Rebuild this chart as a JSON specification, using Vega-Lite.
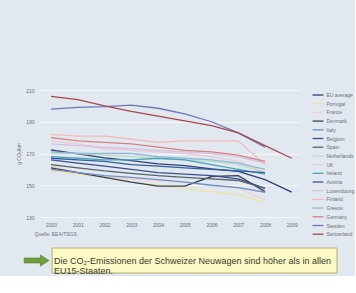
{
  "$schema": "https://vega.github.io/schema/vega-lite/v6.json",
  "background": "#e1e8ef",
  "padding": {"top": 88, "left": 16, "right": 0, "bottom": 0},
  "config": {
    "font": "Liberation Sans",
    "view": {"stroke": null},
    "concat": {"spacing": 9}
  },
  "resolve": {"scale": {"color": "independent"}, "legend": {"color": "independent"}},
  "datasets": {
    "em": [
      {"c":"EU average","y":2000,"v":172.2},{"c":"EU average","y":2001,"v":169.7},{"c":"EU average","y":2002,"v":167.2},{"c":"EU average","y":2003,"v":165.5},{"c":"EU average","y":2004,"v":163.4},{"c":"EU average","y":2005,"v":162.4},{"c":"EU average","y":2006,"v":160.3},{"c":"EU average","y":2007,"v":158.7},{"c":"EU average","y":2008,"v":153.5},{"c":"EU average","y":2009,"v":145.7},
      {"c":"Portugal","y":2000,"v":159},{"c":"Portugal","y":2001,"v":157},{"c":"Portugal","y":2002,"v":155},{"c":"Portugal","y":2003,"v":152},{"c":"Portugal","y":2004,"v":150},{"c":"Portugal","y":2005,"v":148},{"c":"Portugal","y":2006,"v":146},{"c":"Portugal","y":2007,"v":144},{"c":"Portugal","y":2008,"v":139},
      {"c":"France","y":2000,"v":162},{"c":"France","y":2001,"v":158},{"c":"France","y":2002,"v":155},{"c":"France","y":2003,"v":154},{"c":"France","y":2004,"v":153},{"c":"France","y":2005,"v":152},{"c":"France","y":2006,"v":150},{"c":"France","y":2007,"v":148},{"c":"France","y":2008,"v":141},
      {"c":"Denmark","y":2000,"v":161},{"c":"Denmark","y":2001,"v":158},{"c":"Denmark","y":2002,"v":155},{"c":"Denmark","y":2003,"v":152},{"c":"Denmark","y":2004,"v":149.5},{"c":"Denmark","y":2005,"v":149.5},{"c":"Denmark","y":2006,"v":155.5},{"c":"Denmark","y":2007,"v":156},{"c":"Denmark","y":2008,"v":146},
      {"c":"Italy","y":2000,"v":160},{"c":"Italy","y":2001,"v":158},{"c":"Italy","y":2002,"v":156},{"c":"Italy","y":2003,"v":155},{"c":"Italy","y":2004,"v":153.5},{"c":"Italy","y":2005,"v":152},{"c":"Italy","y":2006,"v":150},{"c":"Italy","y":2007,"v":148.5},{"c":"Italy","y":2008,"v":145.6},
      {"c":"Belgium","y":2000,"v":166},{"c":"Belgium","y":2001,"v":164},{"c":"Belgium","y":2002,"v":162},{"c":"Belgium","y":2003,"v":160},{"c":"Belgium","y":2004,"v":158},{"c":"Belgium","y":2005,"v":157},{"c":"Belgium","y":2006,"v":156},{"c":"Belgium","y":2007,"v":154},{"c":"Belgium","y":2008,"v":148},
      {"c":"Spain","y":2000,"v":163},{"c":"Spain","y":2001,"v":161},{"c":"Spain","y":2002,"v":159},{"c":"Spain","y":2003,"v":157.5},{"c":"Spain","y":2004,"v":156},{"c":"Spain","y":2005,"v":155},{"c":"Spain","y":2006,"v":154},{"c":"Spain","y":2007,"v":153},{"c":"Spain","y":2008,"v":148},
      {"c":"Netherlands","y":2000,"v":170},{"c":"Netherlands","y":2001,"v":170},{"c":"Netherlands","y":2002,"v":169},{"c":"Netherlands","y":2003,"v":168},{"c":"Netherlands","y":2004,"v":167},{"c":"Netherlands","y":2005,"v":166},{"c":"Netherlands","y":2006,"v":165},{"c":"Netherlands","y":2007,"v":163},{"c":"Netherlands","y":2008,"v":158},
      {"c":"UK","y":2000,"v":178},{"c":"UK","y":2001,"v":176},{"c":"UK","y":2002,"v":173},{"c":"UK","y":2003,"v":172},{"c":"UK","y":2004,"v":171},{"c":"UK","y":2005,"v":170},{"c":"UK","y":2006,"v":168},{"c":"UK","y":2007,"v":165},{"c":"UK","y":2008,"v":158},
      {"c":"Ireland","y":2000,"v":168},{"c":"Ireland","y":2001,"v":167},{"c":"Ireland","y":2002,"v":166},{"c":"Ireland","y":2003,"v":166},{"c":"Ireland","y":2004,"v":167},{"c":"Ireland","y":2005,"v":166},{"c":"Ireland","y":2006,"v":163},{"c":"Ireland","y":2007,"v":160},{"c":"Ireland","y":2008,"v":157},
      {"c":"Austria","y":2000,"v":167},{"c":"Austria","y":2001,"v":166},{"c":"Austria","y":2002,"v":165},{"c":"Austria","y":2003,"v":163},{"c":"Austria","y":2004,"v":162},{"c":"Austria","y":2005,"v":161},{"c":"Austria","y":2006,"v":160},{"c":"Austria","y":2007,"v":159},{"c":"Austria","y":2008,"v":158},
      {"c":"Luxembourg","y":2000,"v":176},{"c":"Luxembourg","y":2001,"v":175},{"c":"Luxembourg","y":2002,"v":174},{"c":"Luxembourg","y":2003,"v":173},{"c":"Luxembourg","y":2004,"v":172},{"c":"Luxembourg","y":2005,"v":171},{"c":"Luxembourg","y":2006,"v":170},{"c":"Luxembourg","y":2007,"v":168},{"c":"Luxembourg","y":2008,"v":164},
      {"c":"Finland","y":2000,"v":182},{"c":"Finland","y":2001,"v":181},{"c":"Finland","y":2002,"v":181},{"c":"Finland","y":2003,"v":179},{"c":"Finland","y":2004,"v":177},{"c":"Finland","y":2005,"v":178},{"c":"Finland","y":2006,"v":178},{"c":"Finland","y":2007,"v":178},{"c":"Finland","y":2008,"v":163},
      {"c":"Greece","y":2000,"v":171},{"c":"Greece","y":2001,"v":170},{"c":"Greece","y":2002,"v":170},{"c":"Greece","y":2003,"v":170},{"c":"Greece","y":2004,"v":168},{"c":"Greece","y":2005,"v":167},{"c":"Greece","y":2006,"v":166},{"c":"Greece","y":2007,"v":164},{"c":"Greece","y":2008,"v":160},
      {"c":"Germany","y":2000,"v":180},{"c":"Germany","y":2001,"v":178},{"c":"Germany","y":2002,"v":177},{"c":"Germany","y":2003,"v":176},{"c":"Germany","y":2004,"v":174},{"c":"Germany","y":2005,"v":172},{"c":"Germany","y":2006,"v":171},{"c":"Germany","y":2007,"v":169},{"c":"Germany","y":2008,"v":165},
      {"c":"Sweden","y":2000,"v":198},{"c":"Sweden","y":2001,"v":199},{"c":"Sweden","y":2002,"v":199.5},{"c":"Sweden","y":2003,"v":200.5},{"c":"Sweden","y":2004,"v":198.5},{"c":"Sweden","y":2005,"v":195},{"c":"Sweden","y":2006,"v":190},{"c":"Sweden","y":2007,"v":183},{"c":"Sweden","y":2008,"v":174},
      {"c":"Switzerland","y":2000,"v":206},{"c":"Switzerland","y":2001,"v":204},{"c":"Switzerland","y":2002,"v":200},{"c":"Switzerland","y":2003,"v":196.5},{"c":"Switzerland","y":2004,"v":193.5},{"c":"Switzerland","y":2005,"v":190.5},{"c":"Switzerland","y":2006,"v":187.5},{"c":"Switzerland","y":2007,"v":183},{"c":"Switzerland","y":2008,"v":175},{"c":"Switzerland","y":2009,"v":167}
    ],
    "note": [
      {"t": "Die CO₂-Emissionen der Schweizer Neuwagen sind höher als in allen\nEU15-Staaten."}
    ]
  },
  "vconcat": [
    {
      "width": 260,
      "height": 127,
      "data": {"name": "em"},
      "mark": {"type": "line", "strokeWidth": 1.3},
      "encoding": {
        "x": {
          "field": "y", "type": "quantitative",
          "scale": {"domain": [1999.55, 2009.27], "nice": false, "zero": false},
          "axis": {
            "values": [2000,2001,2002,2003,2004,2005,2006,2007,2008,2009],
            "format": "d", "grid": false, "ticks": false, "domain": false,
            "labelFontSize": 5, "labelColor": "#6a6f78", "labelPadding": 5,
            "title": "Quelle: EEA/TSGS",
            "titleAnchor": "start", "titleAlign": "left", "titleX": -5,
            "titleFontSize": 5, "titleFontWeight": "normal", "titleColor": "#6a6f78", "titlePadding": 4
          }
        },
        "y": {
          "field": "v", "type": "quantitative",
          "scale": {"domain": [130, 210], "nice": false, "zero": false},
          "axis": {
            "values": [130, 150, 170, 190, 210],
            "ticks": false, "domain": false, "gridColor": "#f6f9fb", "gridWidth": 1,
            "labelFontSize": 5, "labelColor": "#6a6f78", "labelPadding": 5,
            "title": "g CO₂/km", "titleFontSize": 5, "titleFontWeight": "normal",
            "titleColor": "#6a6f78", "titlePadding": 4
          }
        },
        "color": {
          "field": "c", "type": "nominal",
          "scale": {
            "domain": ["EU average","Portugal","France","Denmark","Italy","Belgium","Spain","Netherlands","UK","Ireland","Austria","Luxembourg","Finland","Greece","Germany","Sweden","Switzerland"],
            "range": ["#2e3f78","#efe3a6","#f2d2c6","#39424f","#6f8fc8","#3b4f8f","#55606e","#bcdcc0","#e6c9d9","#4aa3b8","#2f5e9e","#d8c0e0","#f4b8b8","#8fb7d8","#d98080","#6b78b8","#a8464f"]
          },
          "legend": {
            "title": null, "symbolType": "M-1.4,0L1.4,0", "symbolSize": 60, "symbolStrokeWidth": 1.3,
            "labelFontSize": 5, "labelColor": "#6a6f78", "rowPadding": 0.7,
            "offset": 14, "labelOffset": 3.5, "padding": 0
          }
        }
      }
    },
    {
      "width": 298,
      "height": 25,
      "data": {"name": "note"},
      "layer": [
        {
          "mark": {"type": "rect", "fill": "#fbf9c4", "stroke": "#b5ad6c", "strokeWidth": 1},
          "encoding": {
            "x": {"datum": 0.044, "type": "quantitative", "scale": {"domain": [0, 1], "nice": false, "zero": false}, "axis": null},
            "x2": {"datum": 1}
          }
        },
        {
          "mark": {"type": "text", "align": "left", "baseline": "middle", "lineBreak": "\n", "fontSize": 9, "lineHeight": 10, "color": "#3a3a30", "font": "Liberation Sans"},
          "encoding": {
            "x": {"datum": 0.05, "type": "quantitative"},
            "text": {"field": "t"}
          }
        },
        {
          "mark": {"type": "point", "filled": true, "size": 620, "fill": "#6f9e3c", "stroke": "#557a2c", "strokeWidth": 0.6, "opacity": 1,
                   "shape": "M-1,-0.2L0.3,-0.2L0.3,-0.45L1,0L0.3,0.45L0.3,0.2L-1,0.2Z"},
          "encoding": {
            "x": {"datum": -0.008, "type": "quantitative"}
          }
        }
      ]
    }
  ]
}
